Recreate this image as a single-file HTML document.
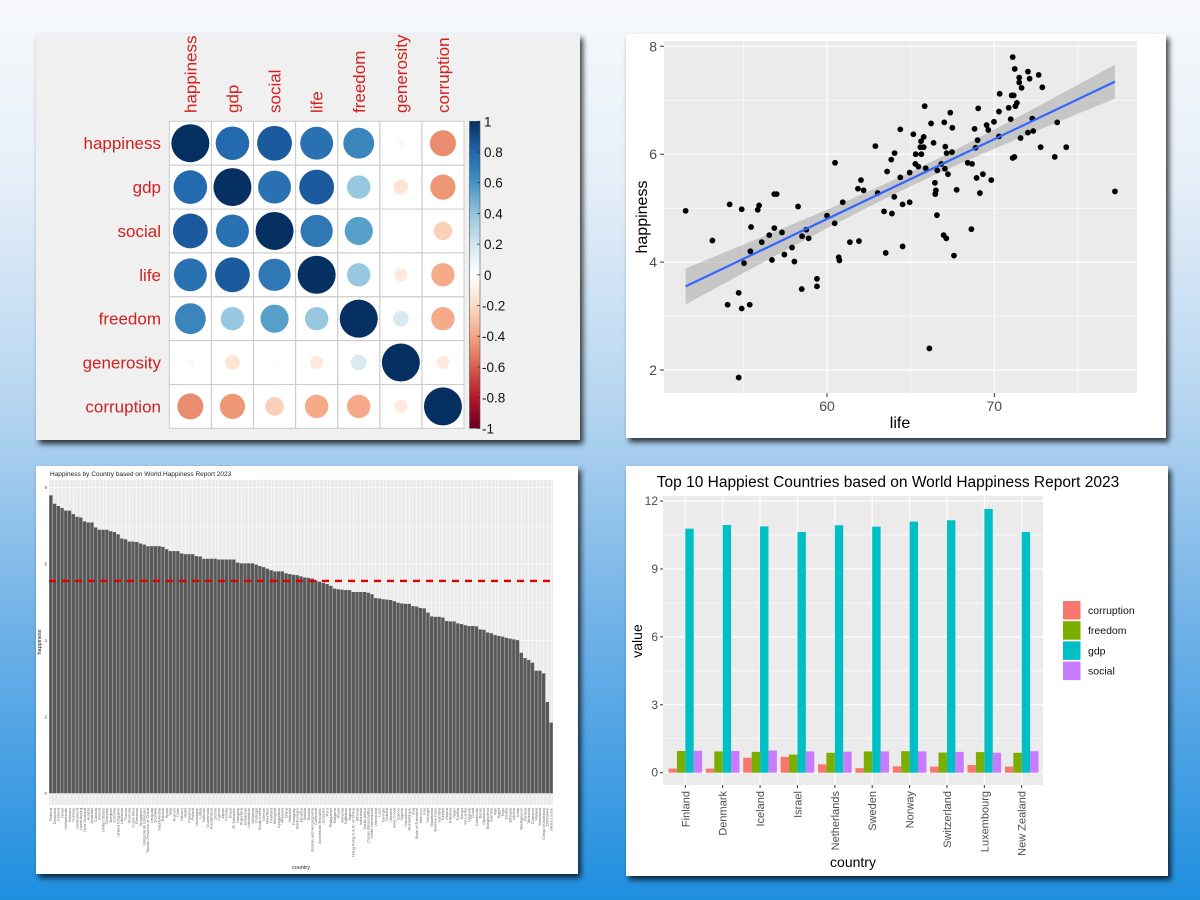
<!DOCTYPE html>
<html><head><meta charset="utf-8"><style>
html,body{margin:0;padding:0;width:1200px;height:900px;overflow:hidden}
body{background:linear-gradient(180deg,#f7f9fc 0%,#e6eff8 20%,#b5d5f0 45%,#6fb1e8 70%,#1f8fe0 100%);font-family:"Liberation Sans",sans-serif}
svg{position:absolute;left:0;top:0}
</style></head><body>
<svg id="s" width="1200" height="900" xmlns="http://www.w3.org/2000/svg" font-family="Liberation Sans, sans-serif">
<defs><filter id="sh" x="-5%" y="-5%" width="115%" height="115%"><feDropShadow dx="3" dy="4" stdDeviation="3" flood-color="#000" flood-opacity="0.75"/></filter>
<linearGradient id="cbar" x1="0" y1="0" x2="0" y2="1">
<stop offset="0" stop-color="#053061"/><stop offset="0.1" stop-color="#2166AC"/><stop offset="0.2" stop-color="#4393C3"/><stop offset="0.3" stop-color="#92C5DE"/><stop offset="0.4" stop-color="#D1E5F0"/><stop offset="0.5" stop-color="#FFFFFF"/><stop offset="0.6" stop-color="#FDDBC7"/><stop offset="0.7" stop-color="#F4A582"/><stop offset="0.8" stop-color="#D6604D"/><stop offset="0.9" stop-color="#B2182B"/><stop offset="1" stop-color="#67001F"/></linearGradient>
<clipPath id="scClip"><rect x="664" y="41" width="473" height="352"/></clipPath>
</defs>
<rect x="36" y="34" width="544" height="406" fill="#f0f0f0" filter="url(#sh)"/>
<rect x="626" y="34" width="540" height="404" fill="#ffffff" filter="url(#sh)"/>
<rect x="36" y="466" width="542" height="408" fill="#ffffff" filter="url(#sh)"/>
<rect x="626" y="466" width="542" height="410" fill="#ffffff" filter="url(#sh)"/>
<g id="g1"></g>
<g id="g2"></g>
<g id="g3"></g>
<g id="g4"></g>
</svg>
<script>
// ---------- correlation data ----------
const corrVars = ["happiness","gdp","social","life","freedom","generosity","corruption"];
const corrRow0 = [1,0.78,0.84,0.75,0.66,0.04,-0.47];
const corrRow1 = [0.78,1,0.75,0.84,0.38,-0.15,-0.44];
const corrRow2 = [0.84,0.75,1,0.72,0.55,0.02,-0.24];
const corrRow3 = [0.75,0.84,0.72,1,0.38,-0.12,-0.38];
const corrRow4 = [0.66,0.38,0.55,0.38,1,0.17,-0.38];
const corrRow5 = [0.04,-0.15,0.02,-0.12,0.17,1,-0.12];
const corrRow6 = [-0.47,-0.44,-0.24,-0.38,-0.38,-0.12,1];
const corrMatrix = [corrRow0,corrRow1,corrRow2,corrRow3,corrRow4,corrRow5,corrRow6];
const cbarTicks = ["1","0.8","0.6","0.4","0.2","0","-0.2","-0.4","-0.6","-0.8","-1"];
// ---------- scatter data ----------
const lifeVals = [51.55,53.15,54.18,54.06,54.72,54.72,54.90,54.90,55.04,55.38,55.42,55.46,55.86,55.94,56.10,56.55,56.71,56.85,56.85,56.99,57.31,57.45,57.91,58.05,58.27,58.49,58.51,58.76,58.90,59.40,59.40,60.00,60.46,60.48,60.70,60.74,60.94,61.37,61.85,61.91,62.03,62.19,62.89,63.03,63.41,63.51,63.59,63.84,63.88,64.02,64.04,64.38,64.38,64.52,64.52,64.94,64.94,65.16,65.28,65.30,65.46,65.58,65.62,65.64,65.78,65.78,65.84,65.90,66.12,66.22,66.37,66.45,66.47,66.51,66.57,66.59,66.83,67.01,67.05,67.07,67.15,67.23,67.37,67.47,67.49,67.59,67.75,66.97,67.13,68.41,68.63,68.67,68.82,68.88,68.94,69.00,69.04,69.14,69.32,69.54,69.64,69.82,69.98,70.28,70.28,70.32,70.86,70.98,71.04,71.10,71.10,71.16,71.20,71.22,71.26,71.35,71.49,71.49,71.57,71.63,72.01,72.01,72.11,72.27,72.33,72.65,72.77,72.87,73.61,73.76,74.30,77.21];
const happyVals = [4.95,4.40,5.07,3.21,3.43,1.86,4.98,3.14,3.98,3.21,4.20,4.65,4.97,5.05,4.37,4.50,4.04,4.63,5.26,5.26,4.55,4.14,4.27,4.01,5.03,3.50,4.48,4.60,4.44,3.69,3.55,4.86,4.72,5.84,4.09,4.03,5.11,4.37,5.36,4.39,5.52,5.33,6.15,5.28,4.94,4.17,5.68,5.90,4.90,5.21,6.02,6.46,5.57,5.07,4.29,5.11,5.66,6.37,5.82,6.00,5.77,6.13,6.24,6.00,6.32,6.13,6.89,5.74,2.40,6.57,6.21,5.47,5.26,5.33,4.87,5.70,5.82,6.59,5.73,6.14,6.02,5.63,6.77,6.04,6.49,4.12,5.34,4.50,4.44,5.84,4.61,5.82,6.47,6.12,5.56,6.26,6.85,5.28,5.63,6.54,6.45,5.52,6.60,6.79,6.33,7.12,6.86,6.65,7.09,7.80,5.93,7.09,5.95,7.58,6.89,6.95,7.42,7.33,6.30,7.23,7.53,6.40,7.40,6.66,6.43,7.47,6.13,7.24,5.95,6.59,6.13,5.31];
const scYTicks = [2,4,6,8];
const scXTicks = [60,70];
// ---------- bar chart data ----------
const barHappiness = [7.80,7.58,7.52,7.47,7.40,7.40,7.31,7.24,7.22,7.12,7.09,7.09,6.96,6.90,6.90,6.90,6.86,6.84,6.78,6.67,6.65,6.59,6.59,6.58,6.54,6.51,6.47,6.47,6.47,6.47,6.45,6.39,6.34,6.34,6.34,6.28,6.26,6.26,6.26,6.21,6.20,6.14,6.14,6.14,6.14,6.12,6.12,6.12,6.12,6.12,6.04,6.02,6.02,6.02,6.02,5.99,5.95,5.92,5.88,5.84,5.81,5.81,5.81,5.76,5.74,5.72,5.71,5.68,5.65,5.64,5.62,5.57,5.54,5.51,5.48,5.43,5.36,5.34,5.33,5.32,5.32,5.27,5.27,5.27,5.27,5.25,5.21,5.11,5.10,5.08,5.07,5.06,5.03,4.99,4.97,4.96,4.96,4.90,4.89,4.85,4.84,4.73,4.63,4.62,4.62,4.60,4.51,4.50,4.50,4.45,4.43,4.40,4.38,4.38,4.37,4.29,4.28,4.21,4.19,4.14,4.12,4.10,4.07,4.05,4.03,4.01,3.68,3.54,3.49,3.42,3.21,3.21,3.14,2.39,1.85];
const barCountries = ["Finland","Denmark","Iceland","Israel","Netherlands","Sweden","Norway","Switzerland","Luxembourg","New Zealand","Austria","Australia","Canada","Ireland","United States","Germany","Belgium","Czechia","United Kingdom","Lithuania","France","Slovenia","Costa Rica","Romania","Singapore","United Arab Emirates","Taiwan Province of China","Uruguay","Slovakia","Saudi Arabia","Estonia","Spain","Italy","Kosovo","Chile","Mexico","Malta","Panama","Poland","Nicaragua","Latvia","Bahrain","Guatemala","Kazakhstan","Serbia","Cyprus","Japan","Croatia","Brazil","El Salvador","Hungary","Argentina","Honduras","Uzbekistan","Malaysia","Portugal","South Korea","Greece","Mauritius","Thailand","Mongolia","Kyrgyzstan","Moldova","China","Vietnam","Paraguay","Montenegro","Jamaica","Bolivia","Russia","Bosnia and Herzegovina","Colombia","Dominican Republic","Ecuador","Peru","Philippines","Bulgaria","Nepal","Armenia","Tajikistan","Algeria","Hong Kong S.A.R. of China","Albania","Indonesia","South Africa","Congo (Brazzaville)","North Macedonia","Venezuela","Laos","Georgia","Guinea","Ukraine","Ivory Coast","Gabon","Nigeria","Cameroon","Mozambique","Iraq","State of Palestine","Morocco","Iran","Senegal","Mauritania","Burkina Faso","Namibia","Turkiye","Ghana","Pakistan","Niger","Tunisia","Kenya","Sri Lanka","Uganda","Chad","Cambodia","Benin","Myanmar","Bangladesh","Gambia","Mali","Egypt","Togo","Jordan","Ethiopia","Liberia","India","Madagascar","Zambia","Tanzania","Comoros","Malawi","Botswana","Congo (Kinshasa)","Zimbabwe","Sierra Leone","Lebanon","Afghanistan"];
const barMeanLine = 5.56;
const barYTicks = [0,2,4,6,8];
// ---------- grouped bar data ----------
const topCountries = ["Finland","Denmark","Iceland","Israel","Netherlands","Sweden","Norway","Switzerland","Luxembourg","New Zealand"];
const seriesNames = ["corruption","freedom","gdp","social"];
const corruptionVals = [0.18,0.18,0.66,0.70,0.37,0.20,0.28,0.27,0.34,0.27];
const freedomVals = [0.96,0.94,0.92,0.80,0.88,0.94,0.95,0.89,0.91,0.88];
const gdpVals = [10.78,10.94,10.88,10.63,10.93,10.87,11.09,11.15,11.65,10.63];
const socialVals = [0.97,0.96,0.98,0.94,0.93,0.94,0.94,0.92,0.88,0.95];
const gbYTicks = [0,3,6,9,12];

const NS="http://www.w3.org/2000/svg";
function mk(parent,tag,attrs,txt){const e=document.createElementNS(NS,tag);for(const k in attrs)e.setAttribute(k,attrs[k]);if(txt!==undefined)e.textContent=txt;parent.appendChild(e);return e;}

// ===== Correlation plot =====
(function(){
const g=document.getElementById('g1');
const gx=169.3,gy=121.3,cw=42.1,ch=43.86,n=corrVars.length;
const stops=["#67001F","#B2182B","#D6604D","#F4A582","#FDDBC7","#FFFFFF","#D1E5F0","#92C5DE","#4393C3","#2166AC","#053061"];
function hex(c){return [1,3,5].map(i=>parseInt(c.substr(i,2),16));}
function col(r){const t=(r+1)/2*10;const i=Math.min(9,Math.floor(t));const f=t-i;const a=hex(stops[i]),b=hex(stops[i+1]);return 'rgb('+a.map((v,k)=>Math.round(v+(b[k]-v)*f)).join(',')+')';}
let e=mk(g,'rect',{x:gx,y:gy,width:cw*n,height:ch*n,fill:'#fff'});


for(let i=0;i<n;i++){for(let j=0;j<n;j++){
 const cell=mk(g,'rect',{x:gx+j*cw,y:gy+i*ch,width:cw,height:ch,fill:'none',stroke:'#cccccc','stroke-width':1});
 
 
 const r=corrMatrix[i][j];
 const c=mk(g,'circle',{cx:gx+(j+.5)*cw,cy:gy+(i+.5)*ch,r:19*Math.sqrt(Math.abs(r)),fill:col(r)});
 
 
}}
corrVars.forEach((v,i)=>{
 const t=mk(g,'text',{x:161,y:gy+(i+.5)*ch+6,'text-anchor':'end','font-size':17,fill:'#d42020'},v);
 
 
 const cx=gx+(i+.5)*cw+6;
 const t2=mk(g,'text',{x:cx,y:113,transform:'rotate(-90 '+cx+' 113)','font-size':17,fill:'#d42020'},v);
 
 
});
const cb=mk(g,'rect',{x:469.5,y:gy,width:10.5,height:ch*n,fill:'url(#cbar)',stroke:'#555','stroke-width':0.6});


cbarTicks.forEach((s,k)=>{
 const y=gy+k*(ch*n)/(cbarTicks.length-1);
 mk(g,'line',{x1:477,x2:480,y1:y,y2:y,stroke:'#333','stroke-width':0.8});
 const t=mk(g,'text',{x:s.startsWith('-')?482:484,y:y+5,'font-size':13.5,fill:'#111'},s);
 
 
});
})();

// ===== Scatter =====
(function(){
const g=document.getElementById('g2');
const sx=v=>827+(v-60)*16.73, sy=v=>370-(v-2)*53.95;
let e=mk(g,'rect',{x:664,y:41,width:473,height:352,fill:'#ebebeb'});


[3,5,7].forEach(v=>mk(g,'line',{x1:664,x2:1137,y1:sy(v),y2:sy(v),stroke:'#fff','stroke-width':0.6}));
[55,65,75].forEach(v=>mk(g,'line',{x1:sx(v),x2:sx(v),y1:41,y2:393,stroke:'#fff','stroke-width':0.6}));
scYTicks.forEach(v=>{mk(g,'line',{x1:664,x2:1137,y1:sy(v),y2:sy(v),stroke:'#fff','stroke-width':1.2});
 mk(g,'line',{x1:660,x2:664,y1:sy(v),y2:sy(v),stroke:'#333'});
 const t=mk(g,'text',{x:657,y:sy(v)+5,'text-anchor':'end','font-size':14,fill:'#4d4d4d'},String(v));
 
 });
scXTicks.forEach(v=>{mk(g,'line',{x1:sx(v),x2:sx(v),y1:41,y2:393,stroke:'#fff','stroke-width':1.2});
 mk(g,'line',{x1:sx(v),x2:sx(v),y1:393,y2:397,stroke:'#333'});
 const t=mk(g,'text',{x:sx(v),y:411,'text-anchor':'middle','font-size':14,fill:'#4d4d4d'},String(v));
 
 });
const n=lifeVals.length;let mx=0,my=0;for(let i=0;i<n;i++){mx+=lifeVals[i];my+=happyVals[i];}mx/=n;my/=n;
let sxx=0,sxy=0;for(let i=0;i<n;i++){sxx+=(lifeVals[i]-mx)**2;sxy+=(lifeVals[i]-mx)*(happyVals[i]-my);}
const b=sxy/sxx,a=my-b*mx;let sse=0;for(let i=0;i<n;i++)sse+=(happyVals[i]-a-b*lifeVals[i])**2;
const s=Math.sqrt(sse/(n-2));
const x0=Math.min(...lifeVals),x1=Math.max(...lifeVals);
let up=[],lo=[];for(let k=0;k<=40;k++){const x=x0+(x1-x0)*k/40;const se=1.98*s*Math.sqrt(1/n+(x-mx)**2/sxx);const yh=a+b*x;up.push(sx(x)+','+sy(yh+se));lo.unshift(sx(x)+','+sy(yh-se));}
const cg=mk(g,'g',{'clip-path':'url(#scClip)'});
e=mk(cg,'polygon',{points:up.concat(lo).join(' '),fill:'#999999','fill-opacity':0.45});


for(let i=0;i<n;i++){const c=mk(cg,'circle',{cx:sx(lifeVals[i]),cy:sy(happyVals[i]),r:2.9,fill:'#000'});
 
 }
e=mk(cg,'line',{x1:sx(x0),y1:sy(a+b*x0),x2:sx(x1),y2:sy(a+b*x1),stroke:'#3366FF','stroke-width':2.2});


e=mk(g,'text',{x:900,y:428,'text-anchor':'middle','font-size':16,fill:'#000'},'life');


e=mk(g,'text',{x:647,y:217,'text-anchor':'middle','font-size':16,fill:'#000',transform:'rotate(-90 647 217)'},'happiness');


})();

// ===== Bar chart =====
(function(){
const g=document.getElementById('g3');
const px0=49,px1=553,py0=480,py1=805;
const sy=v=>793.3-v*38.2;
const n=barHappiness.length,bw=(px1-px0)/n;
let e=mk(g,'text',{x:50,y:476,'font-size':6.5,fill:'#222'},'Happiness by Country based on World Happiness Report 2023');


e=mk(g,'rect',{x:px0,y:py0,width:px1-px0,height:py1-py0,fill:'#ebebeb'});


[1,3,5,7].forEach(v=>mk(g,'line',{x1:px0,x2:px1,y1:sy(v),y2:sy(v),stroke:'#fff','stroke-width':0.4}));
barYTicks.forEach(v=>{mk(g,'line',{x1:px0,x2:px1,y1:sy(v),y2:sy(v),stroke:'#fff','stroke-width':0.8});
 const t=mk(g,'text',{x:47,y:sy(v)+1.5,'text-anchor':'end','font-size':4.5,fill:'#4d4d4d'},String(v));
 
 });
for(let i=0;i<n;i++){const cx=px0+(i+.5)*bw;
 mk(g,'line',{x1:cx,x2:cx,y1:py0,y2:py1,stroke:'#fff','stroke-width':0.5});}
for(let i=0;i<n;i++){const cx=px0+(i+.5)*bw;
 const r=mk(g,'rect',{x:cx-bw*0.45,y:sy(barHappiness[i]),width:bw*0.9,height:sy(0)-sy(barHappiness[i]),fill:'#595959'});
 
 
 const t=mk(g,'text',{x:cx+1.3,y:808,'text-anchor':'end','font-size':4,fill:'#666',transform:'rotate(-90 '+(cx+1.3)+' 808)'},barCountries[i]||'');
 
 }
e=mk(g,'line',{x1:px0,x2:px1,y1:sy(barMeanLine),y2:sy(barMeanLine),stroke:'#e00000','stroke-width':2.4,'stroke-dasharray':'7 6'});


e=mk(g,'text',{x:301,y:869,'text-anchor':'middle','font-size':5.5,fill:'#222'},'country');


e=mk(g,'text',{x:41,y:642,'text-anchor':'middle','font-size':5.5,fill:'#222',transform:'rotate(-90 41 642)'},'happiness');


})();

// ===== Grouped bars =====
(function(){
const g=document.getElementById('g4');
const px0=663,px1=1043,py0=496,py1=785;
const sy=v=>772.7-v*22.64, cx=i=>685.3+i*37.38;
const colors=["#F8766D","#7CAE00","#00BFC4","#C77CFF"];
const series=[corruptionVals,freedomVals,gdpVals,socialVals];
let e=mk(g,'text',{x:888,y:487,'text-anchor':'middle','font-size':15.5,fill:'#000'},'Top 10 Happiest Countries based on World Happiness Report 2023');


e=mk(g,'rect',{x:px0,y:py0,width:px1-px0,height:py1-py0,fill:'#ebebeb'});


[1.5,4.5,7.5,10.5].forEach(v=>mk(g,'line',{x1:px0,x2:px1,y1:sy(v),y2:sy(v),stroke:'#fff','stroke-width':0.6}));
gbYTicks.forEach(v=>{mk(g,'line',{x1:px0,x2:px1,y1:sy(v),y2:sy(v),stroke:'#fff','stroke-width':1.2});
 mk(g,'line',{x1:660,x2:663,y1:sy(v),y2:sy(v),stroke:'#333'});
 const t=mk(g,'text',{x:658,y:sy(v)+4,'text-anchor':'end','font-size':12,fill:'#4d4d4d'},String(v));
 
 });
const gw=37.38*0.9,bw=gw/4;
topCountries.forEach((c,i)=>{
 mk(g,'line',{x1:cx(i),x2:cx(i),y1:py0,y2:py1,stroke:'#fff','stroke-width':1.2});
 mk(g,'line',{x1:cx(i),x2:cx(i),y1:py1,y2:py1+3,stroke:'#333'});
 series.forEach((arr,k)=>{
  const r=mk(g,'rect',{x:cx(i)-gw/2+k*bw,y:sy(arr[i]),width:bw,height:sy(0)-sy(arr[i]),fill:colors[k]});
  
  
 });
 const t=mk(g,'text',{x:cx(i)+4,y:791,'text-anchor':'end','font-size':11,fill:'#4d4d4d',transform:'rotate(-90 '+(cx(i)+4)+' 791)'},c);
 
 
});
seriesNames.forEach((s,k)=>{
 const r=mk(g,'rect',{x:1063,y:601+k*20.2,width:17.5,height:18.5,fill:colors[k]});
 
 
 const t=mk(g,'text',{x:1088,y:614+k*20.2,'font-size':10.5,fill:'#111'},s);
 
 
});
e=mk(g,'text',{x:853,y:867,'text-anchor':'middle','font-size':14,fill:'#000'},'country');


e=mk(g,'text',{x:642,y:641,'text-anchor':'middle','font-size':14,fill:'#000',transform:'rotate(-90 642 641)'},'value');


})();
</script>
</body></html>
